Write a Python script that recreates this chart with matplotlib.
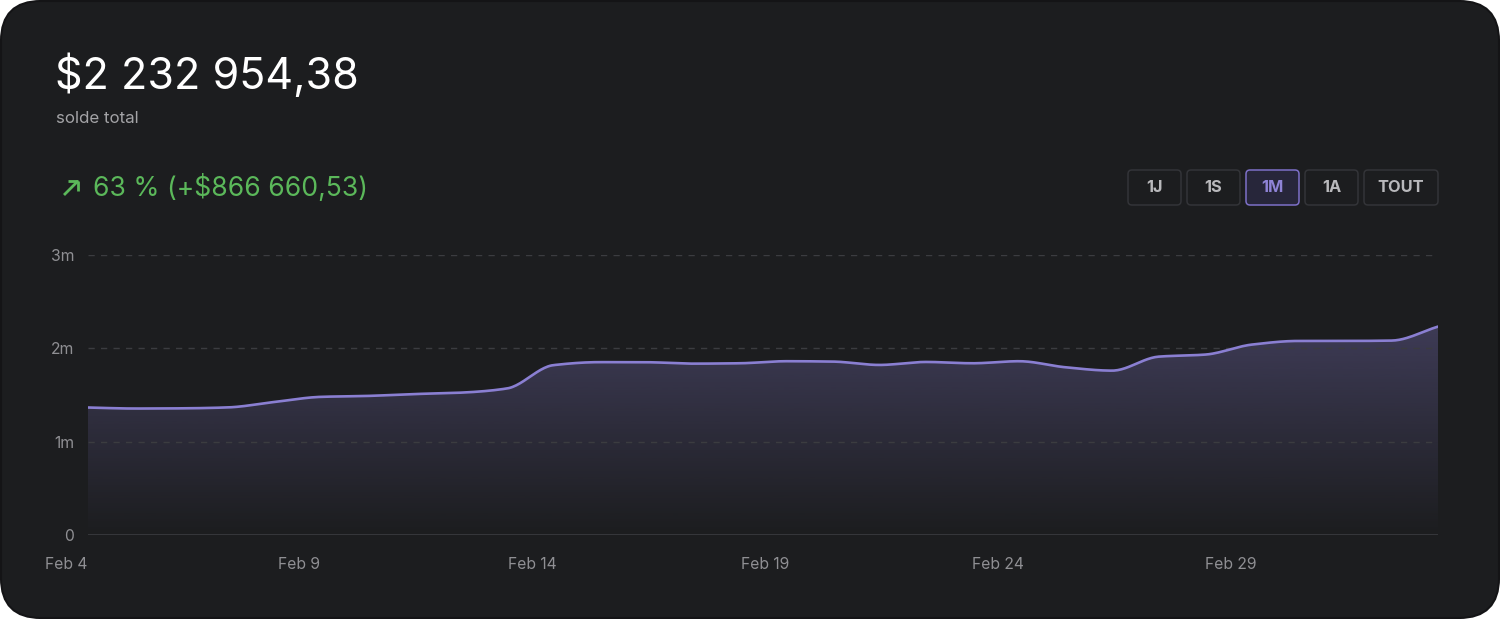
import numpy as np
import pandas as pd
import matplotlib
matplotlib.use("Agg")
import matplotlib.pyplot as plt
import matplotlib.dates as mdates
from matplotlib.patches import FancyBboxPatch
from matplotlib.lines import Line2D
from matplotlib.transforms import IdentityTransform

# données (millions $)
dates = pd.date_range("2024-02-04 11:00", periods=30, freq="D")
solde = [1.366, 1.355, 1.357, 1.367, 1.425, 1.48, 1.49, 1.51, 1.525, 1.57,
         1.82, 1.852, 1.851, 1.836, 1.84, 1.862, 1.858, 1.822, 1.854, 1.84,
         1.862, 1.797, 1.761, 1.911, 1.933, 2.04, 2.079, 2.079, 2.083, 2.233]
yticks = [0, 1, 2, 3]
ylabels = ["0", "1m", "2m", "3m"]
xtick_dates = pd.to_datetime(["2024-02-04", "2024-02-09", "2024-02-14",
                              "2024-02-19", "2024-02-24", "2024-02-29"])
xtick_labels = ["Feb 4", "Feb 9", "Feb 14", "Feb 19", "Feb 24", "Feb 29"]
boutons = ["1J", "1S", "1M", "1A", "TOUT"]
actif = "1M"
titre = "$2 232 954,38"
sous_titre = "solde total"
variation = "63 % (+$866 660,53)"

BG = "#1c1d1f"
VIOLET = "#8a7fd2"
VERT = "#5bb85a"
GRIS = "#8f8f93"
plt.rcParams["font.family"] = ["Inter", "DejaVu Sans"]


def monotone(x, y, n=25):
    # interpolation cubique monotone (comme d3 curveMonotoneX)
    x = np.asarray(x, float)
    y = np.asarray(y, float)
    h = np.diff(x)
    d = np.diff(y) / h
    m = np.zeros_like(y)
    m[0], m[-1] = d[0], d[-1]
    for i in range(1, len(y) - 1):
        if d[i - 1] * d[i] <= 0:
            m[i] = 0
        else:
            w1 = 2 * h[i] + h[i - 1]
            w2 = h[i] + 2 * h[i - 1]
            m[i] = (w1 + w2) / (w1 / d[i - 1] + w2 / d[i])
    xs, ys = [], []
    for i in range(len(h)):
        t = np.linspace(0, 1, n, endpoint=(i == len(h) - 1))
        h00 = 2 * t**3 - 3 * t**2 + 1
        h10 = t**3 - 2 * t**2 + t
        h01 = -2 * t**3 + 3 * t**2
        h11 = t**3 - t**2
        xs.append(x[i] + t * h[i])
        ys.append(h00 * y[i] + h10 * h[i] * m[i] + h01 * y[i + 1] + h11 * h[i] * m[i + 1])
    return np.concatenate(xs), np.concatenate(ys)


W, H = 1500, 619
fig = plt.figure(figsize=(W / 100, H / 100), dpi=100)
fig.patch.set_facecolor("white")

# carte arrondie
carte = FancyBboxPatch((1, 1), W - 2, H - 2, boxstyle="round,pad=0,rounding_size=40",
                       transform=IdentityTransform(), facecolor=BG,
                       edgecolor="#141416", linewidth=1.5, zorder=0)
fig.add_artist(carte)

# en-tête
fig.text(55, H - 89, titre, transform=IdentityTransform(), color="white",
         fontsize=31, va="baseline", ha="left")
fig.text(56, H - 123, sous_titre, transform=IdentityTransform(), color="#a3a3a6",
         fontsize=12.2, va="baseline", ha="left")
fig.text(93, H - 196, variation, transform=IdentityTransform(), color=VERT,
         fontsize=19.1, va="baseline", ha="left")
# flèche ↗
for seg in [((64, 78), (H - 195, H - 181)), ((68, 78), (H - 181, H - 181)),
            ((78, 78), (H - 181, H - 191))]:
    fig.add_artist(Line2D(seg[0], seg[1], transform=IdentityTransform(), color=VERT,
                          linewidth=2.0, solid_capstyle="butt", solid_joinstyle="miter"))

# boutons de période
x0 = 1128
for b in boutons:
    w = 74 if b == "TOUT" else 53
    on = b == actif
    rect = FancyBboxPatch((x0, H - 205), w, 35, boxstyle="round,pad=0,rounding_size=4",
                          transform=IdentityTransform(),
                          facecolor="#27263a" if on else BG,
                          edgecolor="#7d70c8" if on else "#333438", linewidth=1.1)
    fig.add_artist(rect)
    fig.text(x0 + w / 2, H - 187.5, b, transform=IdentityTransform(),
             color="#8f83d6" if on else "#b9b9bc", fontsize=11.8, fontweight="bold",
             ha="center", va="center")
    x0 += w + 6

# graphique
ax = fig.add_axes([88 / W, (H - 535) / H, 1350 / W, 280 / H])
ax.set_facecolor("none")
xn = mdates.date2num(dates)
xs, ys = monotone(xn, solde)

ax.set_xlim(xn[0], xn[-1])
ax.set_ylim(0, 3)

# dégradé sous la courbe
ymax = ys.max()
grad = np.zeros((256, 1, 4))
grad[:, 0, :3] = matplotlib.colors.to_rgb(VIOLET)
grad[:, 0, 3] = np.linspace(0.31, 0.0, 256)
poly = ax.fill_between(xs, ys, 0, facecolor="none", edgecolor="none")
img = ax.imshow(grad, extent=[xn[0], xn[-1], 0, ymax], aspect="auto",
                origin="upper", zorder=1, interpolation="bilinear")
img.set_clip_path(poly.get_paths()[0], transform=ax.transData)

for yt in yticks[1:]:
    ax.axhline(yt, color="#3b3c40", linewidth=1, linestyle=(0, (4.5, 4.5)), zorder=2)
ax.axhline(0, color="#3b3c40", linewidth=1.2, zorder=2)

ax.plot(xs, ys, color=VIOLET, linewidth=1.9, zorder=3, solid_capstyle="round")

ax.set_yticks(yticks)
ax.set_yticklabels(ylabels, color=GRIS, fontsize=11.3)
ax.set_xticks([])
ax.tick_params(axis="y", length=0, pad=10)
for s in ax.spines.values():
    s.set_visible(False)

for d, lbl in zip(mdates.date2num(xtick_dates), xtick_labels):
    ax.annotate(lbl, xy=(d, 0), xycoords=("data", "axes fraction"),
                xytext=(0, -21.5), textcoords="offset points", ha="center", va="center",
                color=GRIS, fontsize=11.3, annotation_clip=False)

fig.savefig("out.png", dpi=100, facecolor=fig.get_facecolor())
